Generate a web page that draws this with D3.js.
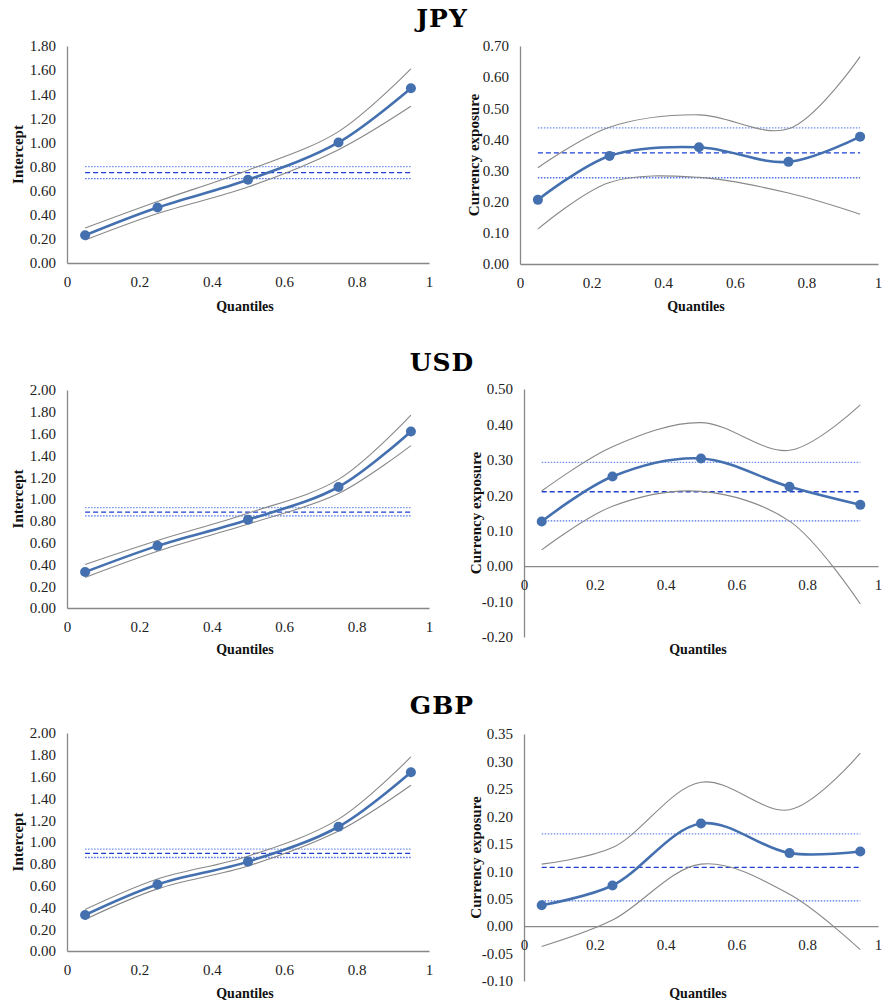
<!DOCTYPE html>
<html>
<head>
<meta charset="utf-8">
<script src="https://d3js.org/d3.v7.min.js"></script>
<style>
  body { margin: 0; background: #fff; }
</style>
</head>
<body>
<svg width="885" height="1006"></svg>
<script>
// quantiles at which the regressions were run
const quantiles = [0.05, 0.25, 0.5, 0.75, 0.95];
const currencies = ["JPY", "USD", "GBP"];
const xTicks = [0, 0.2, 0.4, 0.6, 0.8, 1];

// intercept estimates, upper / lower bands and OLS [lower, estimate, upper]
const jpyIntercept      = [0.23, 0.46, 0.69, 1.00, 1.45];
const jpyInterceptUp    = [0.29, 0.51, 0.77, 1.09, 1.61];
const jpyInterceptLo    = [0.19, 0.41, 0.63, 0.94, 1.30];
const jpyInterceptOls   = [0.70, 0.75, 0.80];

const usdIntercept      = [0.33, 0.57, 0.81, 1.11, 1.62];
const usdInterceptUp    = [0.40, 0.62, 0.87, 1.18, 1.77];
const usdInterceptLo    = [0.28, 0.52, 0.77, 1.05, 1.49];
const usdInterceptOls   = [0.845, 0.88, 0.92];

const gbpIntercept      = [0.33, 0.61, 0.82, 1.14, 1.64];
const gbpInterceptUp    = [0.38, 0.66, 0.87, 1.21, 1.78];
const gbpInterceptLo    = [0.29, 0.57, 0.78, 1.10, 1.52];
const gbpInterceptOls   = [0.858, 0.895, 0.934];

// currency exposure estimates
const jpyExposure       = [0.206, 0.347, 0.375, 0.328, 0.409];
const jpyExposureUp     = [0.309, 0.439, 0.479, 0.434, 0.666];
const jpyExposureLo     = [0.112, 0.262, 0.278, 0.228, 0.160];
const jpyExposureOls    = [0.277, 0.357, 0.437];

const usdExposure       = [0.126, 0.253, 0.304, 0.224, 0.173];
const usdExposureUp     = [0.212, 0.337, 0.405, 0.327, 0.455];
const usdExposureLo     = [0.046, 0.169, 0.211, 0.127, -0.107];
const usdExposureOls    = [0.128, 0.210, 0.293];

const gbpExposure       = [0.038, 0.074, 0.187, 0.133, 0.136];
const gbpExposureUp     = [0.113, 0.143, 0.262, 0.212, 0.315];
const gbpExposureLo     = [-0.037, 0.011, 0.113, 0.058, -0.043];
const gbpExposureOls    = [0.046, 0.107, 0.168];

// y tick values
const interceptTicksJPY = [0, 0.2, 0.4, 0.6, 0.8, 1.0, 1.2, 1.4, 1.6, 1.8];
const interceptTicks    = [0, 0.2, 0.4, 0.6, 0.8, 1.0, 1.2, 1.4, 1.6, 1.8, 2.0];
const exposureTicksJPY  = [0, 0.1, 0.2, 0.3, 0.4, 0.5, 0.6, 0.7];
const exposureTicksUSD  = [-0.2, -0.1, 0, 0.1, 0.2, 0.3, 0.4, 0.5];
const exposureTicksGBP  = [-0.1, -0.05, 0, 0.05, 0.1, 0.15, 0.2, 0.25, 0.3, 0.35];

const SERIF = "'Times New Roman', 'Liberation Serif', Times, serif";
const svg = d3.select("svg");

const panels = [
  { est: jpyIntercept, up: jpyInterceptUp, lo: jpyInterceptLo, ols: jpyInterceptOls, ticks: interceptTicksJPY,
    label: "Intercept", x0: 67, x1: 429, yTop: 46, yBot: 263, labelX: 18, qY: 306 },
  { est: jpyExposure, up: jpyExposureUp, lo: jpyExposureLo, ols: jpyExposureOls, ticks: exposureTicksJPY,
    label: "Currency exposure", x0: 520, x1: 878, yTop: 46, yBot: 264, labelX: 474, qY: 306 },
  { est: usdIntercept, up: usdInterceptUp, lo: usdInterceptLo, ols: usdInterceptOls, ticks: interceptTicks,
    label: "Intercept", x0: 67, x1: 429, yTop: 390, yBot: 608, labelX: 18, qY: 649 },
  { est: usdExposure, up: usdExposureUp, lo: usdExposureLo, ols: usdExposureOls, ticks: exposureTicksUSD,
    label: "Currency exposure", x0: 524, x1: 878, yTop: 389, yBot: 637, labelX: 476, qY: 649 },
  { est: gbpIntercept, up: gbpInterceptUp, lo: gbpInterceptLo, ols: gbpInterceptOls, ticks: interceptTicks,
    label: "Intercept", x0: 67, x1: 429, yTop: 733, yBot: 951, labelX: 18, qY: 993 },
  { est: gbpExposure, up: gbpExposureUp, lo: gbpExposureLo, ols: gbpExposureOls, ticks: exposureTicksGBP,
    label: "Currency exposure", x0: 524, x1: 878, yTop: 734, yBot: 981, labelX: 476, qY: 993 }
];

// currency titles
const titleY = [27, 371, 714];
currencies.forEach((c, i) => {
  svg.append("text")
    .attr("x", 442).attr("y", titleY[i])
    .attr("text-anchor", "middle")
    .style("font-family", "'DejaVu Serif', serif")
    .style("font-size", "25px").style("font-weight", "bold")
    .style("letter-spacing", "1px")
    .text(c);
});

const fmt = v => v.toFixed(2);

panels.forEach(p => {
  const x = d3.scaleLinear().domain([0, 1]).range([p.x0, p.x1]);
  const y = d3.scaleLinear().domain(d3.extent(p.ticks)).range([p.yBot, p.yTop]);
  const g = svg.append("g");

  // y axis
  const ya = g.append("g").attr("transform", "translate(" + p.x0 + ",0)")
    .call(d3.axisLeft(y).tickValues(p.ticks).tickFormat(fmt).tickSize(0).tickPadding(11));
  ya.select(".domain").attr("stroke", "#888").attr("stroke-width", 1.3);

  // x axis sits on zero
  const xa = g.append("g").attr("transform", "translate(0," + y(0) + ")")
    .call(d3.axisBottom(x).tickValues(xTicks).tickFormat(d => d === 0 ? "0" : d === 1 ? "1" : d.toFixed(1)).tickSize(0).tickPadding(13));
  xa.select(".domain").attr("stroke", "#888").attr("stroke-width", 1.3);

  g.selectAll(".tick text")
    .style("font-family", SERIF).style("font-size", "15px").attr("fill", "#222");

  // OLS lines
  const olsStyles = [
    { color: "#4d70e8", dash: "1.5,1.5" },
    { color: "#1f3fcf", dash: "5,3" },
    { color: "#6f8ff0", dash: "1.5,1.5" }
  ];
  p.ols.forEach((v, i) => {
    g.append("line")
      .attr("x1", x(quantiles[0])).attr("x2", x(quantiles[quantiles.length - 1]))
      .attr("y1", y(v)).attr("y2", y(v))
      .attr("stroke", olsStyles[i].color).attr("stroke-width", 1.3)
      .attr("stroke-dasharray", olsStyles[i].dash);
  });

  const line = d3.line()
    .x((d, i) => x(quantiles[i]))
    .y(d => y(d))
    .curve(d3.curveCatmullRom.alpha(0.5));

  [p.up, p.lo].forEach(arr => {
    g.append("path").attr("d", line(arr))
      .attr("fill", "none").attr("stroke", "#888").attr("stroke-width", 1.1);
  });

  g.append("path").attr("d", line(p.est))
    .attr("fill", "none").attr("stroke", "#4470b0").attr("stroke-width", 2.6);

  g.selectAll("circle.pt").data(p.est).enter().append("circle")
    .attr("class", "pt")
    .attr("cx", (d, i) => x(quantiles[i]))
    .attr("cy", d => y(d))
    .attr("r", 5)
    .attr("fill", "#4470b0");

  // axis titles
  g.append("text")
    .attr("x", (p.x0 + p.x1) / 2 - 3).attr("y", p.qY + 5)
    .attr("text-anchor", "middle")
    .style("font-family", SERIF).style("font-size", "14px").style("font-weight", "bold")
    .attr("fill", "#111")
    .text("Quantiles");

  g.append("text")
    .attr("transform", "translate(" + (p.labelX + 5) + "," + ((p.yTop + p.yBot) / 2) + ") rotate(-90)")
    .attr("text-anchor", "middle")
    .style("font-family", SERIF).style("font-size", "15px").style("font-weight", "bold")
    .attr("fill", "#111")
    .text(p.label);
});
</script>
</body>
</html>
